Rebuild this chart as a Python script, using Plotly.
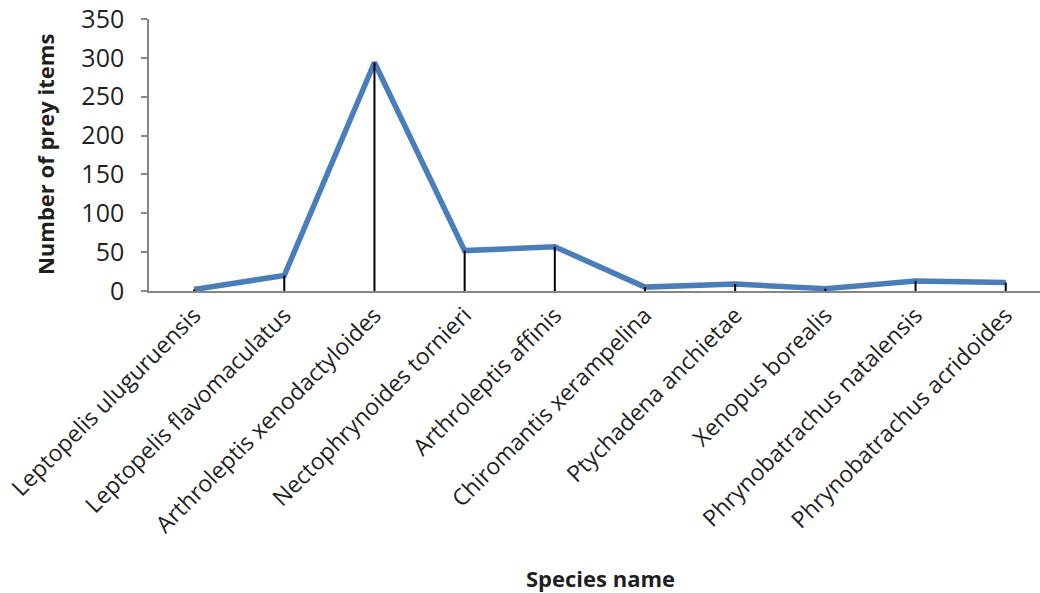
import plotly.graph_objects as go

species = [
    "Leptopelis uluguruensis",
    "Leptopelis flavomaculatus",
    "Arthroleptis xenodactyloides",
    "Nectophrynoides tornieri",
    "Arthroleptis affinis",
    "Chiromantis xerampelina",
    "Ptychadena anchietae",
    "Xenopus borealis",
    "Phrynobatrachus natalensis",
    "Phrynobatrachus acridoides",
]
prey_items = [2, 20, 294, 52, 57, 5, 9, 3, 13, 11]
y_ticks = [0, 50, 100, 150, 200, 250, 300, 350]

FONT = "Open Sans"
TXT = "#1f1f1f"
AXIS = "#868686"

# drop lines from each point to the category axis
drop_x, drop_y = [], []
for s, v in zip(species, prey_items):
    drop_x += [s, s, None]
    drop_y += [0, v, None]

fig = go.Figure()
fig.add_trace(go.Scatter(
    x=species, y=prey_items, mode="lines",
    line=dict(color="#4A7EBB", width=5.5),
    showlegend=False, hoverinfo="x+y",
))
fig.add_trace(go.Scatter(
    x=drop_x, y=drop_y, mode="lines",
    line=dict(color="black", width=2),
    showlegend=False, hoverinfo="skip", connectgaps=False,
))

fig.update_layout(
    width=1040, height=593,
    margin=dict(l=149, r=0, t=19, b=302, autoexpand=False),
    paper_bgcolor="white", plot_bgcolor="white",
    font=dict(family=FONT, color=TXT, size=23),
    xaxis=dict(
        type="category", categoryorder="array", categoryarray=species,
        range=[-0.5, 9.38], showline=True, linecolor=AXIS, linewidth=1.5,
        ticks="", showgrid=False, zeroline=False, tickangle=-45,
        tickfont=dict(family=FONT, size=23, color=TXT), automargin=False,
    ),
    yaxis=dict(
        range=[0, 350], tickvals=y_ticks, showline=True, linecolor=AXIS,
        linewidth=1.5, ticks="outside", ticklen=6, tickcolor=AXIS, tickwidth=1.5,
        showgrid=False, zeroline=False, ticklabelstandoff=12,
        tickfont=dict(family=FONT, size=25, color=TXT), automargin=False,
    ),
    annotations=[
        dict(text="<b>Species name</b>", xref="paper", yref="paper",
             x=0.507, y=-1.055, showarrow=False, xanchor="center", yanchor="middle",
             font=dict(family=FONT, size=22, color=TXT)),
        dict(text="<b>Number of prey items</b>", xref="paper", yref="paper",
             x=-0.1167, y=0.5, textangle=-90, showarrow=False,
             xanchor="center", yanchor="middle",
             font=dict(family=FONT, size=22, color=TXT)),
    ],
)

# remove the browser's default body margin so the figure fills the window exactly
fig.write_html("out.html", config={"displayModeBar": False},
               post_script="document.body.style.margin='0px';")
